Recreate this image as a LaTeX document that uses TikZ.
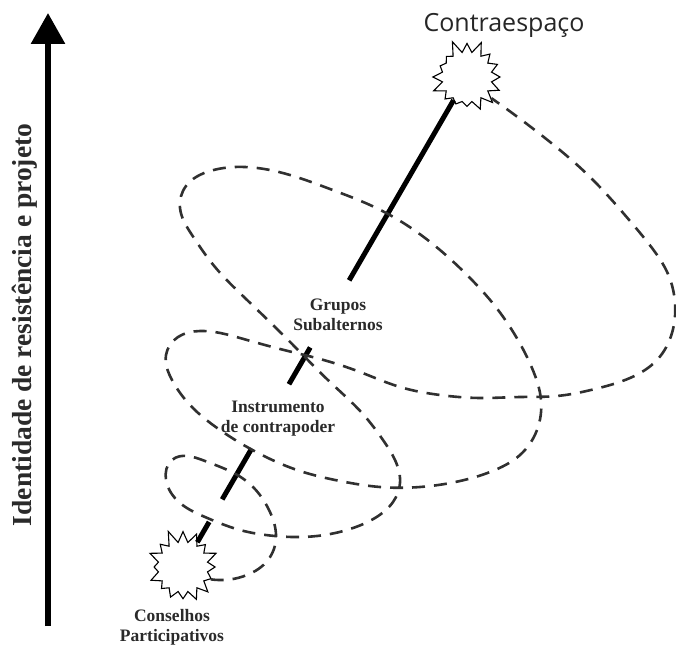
\documentclass[tikz,border=0pt]{standalone}
\usepackage{fontspec}
\setmainfont{Liberation Serif}
\newfontfamily\titlefont{Open Sans}
\usepackage{tikz}
\usetikzlibrary{hobby}
\usetikzlibrary{shapes.symbols}
\usetikzlibrary{arrows.meta}
\usetikzlibrary{calc}
\usepackage{xcolor}
\definecolor{dashgray}{HTML}{303030}
\definecolor{textgray}{HTML}{2A2A2A}

\begin{document}
\begin{tikzpicture}[x=1pt,y=-1pt]
			%\draw[help lines,step=50] (0,0) grid (676,644);
			\useasboundingbox (0,0) rectangle (676,644);

				\tikzset{
				burst/.style={starburst, starburst points=16,
					starburst point height=14pt, draw=black, line width=1.1pt,
					fill=white, minimum width=78pt, minimum height=78pt, inner sep=0pt},
				stage/.style={font=\bfseries\fontsize{17.5}{20}\selectfont,
					text=textgray, align=center, inner sep=0pt},
				spiral/.style={draw=dashgray, line width=2.6pt,
					dash pattern=on 13pt off 9pt},
				axisline/.style={line width=5pt}}

				% eixo vertical
				\coordinate (yb) at (48,626);
				\coordinate (yt) at (48,13);
				\draw[line width=6pt,-{Triangle[width=33pt,length=31pt]}] (yb) -- (yt);
				\node[rotate=90, text=textgray,
					font=\bfseries\fontsize{27.5}{30}\selectfont] (idr) at (25,325)
					{Identidade de resistência e projeto};

				\node[burst, random starburst=11] (cp) at (183,567) {};
				\node[burst, random starburst=5] (ce) at (467,77) {};

				\node[stage] (cpl) at (172,627) {Conselhos\\Participativos};
				\node[stage] (ic) at (278,419) {Instrumento\\de contrapoder};
				\node[stage] (gs) at (338,315) {Grupos\\Subalternos};
				\node[font=\titlefont\fontsize{25}{30}\selectfont, text=black!85]
					(cel) at (504,25) {Contraespaço};

				\draw[axisline] (cp) -- ($(cp)!0.092!(ce)$);
				\draw[axisline] ($(cp)!0.138!(ce)$) -- ($(cp)!0.242!(ce)$);
				\draw[axisline] ($(cp)!0.373!(ce)$) -- ($(cp)!0.448!(ce)$);
				\draw[axisline] ($(cp)!0.585!(ce)$) -- (ce);

				\draw[spiral] (cp.-24) to[curve through={(247,575) .. (268,560)
					.. (276,538) .. (270,512) .. (245,480) .. (205,461) .. (172,460)
					.. (166,480) .. (180,503) .. (205,517) .. (240,530) .. (275,536)
					.. (317,536) .. (350,529) .. (375,518) .. (393,502) .. (400,483)
					.. (395,460) .. (383,440) .. (362,413) .. (330,382) .. (300,352)
					.. (275,327) .. (245,298) .. (215,267) .. (192,235) .. (180,208)
					.. (186,186) .. (210,171) .. (245,167) .. (290,175) .. (330,189)
					.. (370,205) .. (405,224) .. (440,250) .. (470,278) .. (495,306)
					.. (515,335) .. (532,368) .. (541,400) .. (537,430) .. (520,455)
					.. (495,470) .. (460,481) .. (420,487) .. (380,487) .. (340,481)
					.. (300,471) .. (260,454) .. (220,430) .. (190,405) .. (172,380)
					.. (166,355) .. (178,337) .. (200,331) .. (240,338) .. (280,349)
					.. (320,359) .. (360,372) .. (400,387) .. (440,395) .. (480,398)
					.. (520,397) .. (557,396) .. (595,389) .. (630,378) .. (657,360)
					.. (672,333) .. (675,303) .. (668,274) .. (652,248) .. (630,221)
					.. (590,177) .. (545,138)}] (ce.-41);

			\end{tikzpicture}
\end{document}
